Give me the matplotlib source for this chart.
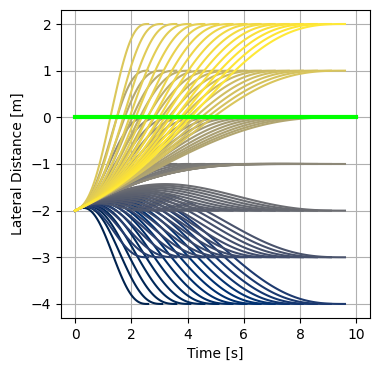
import numpy as np
import matplotlib
matplotlib.use('Agg')
import matplotlib.pyplot as plt

# lattice of lateral quintic trajectories: start state, target offsets and durations
d_start = -2.0
v_start = 0.3
targets = [-4, -3, -2, -1, 0, 1, 2]
durations = [2.6, 3.1, 3.6, 4.1, 4.6, 5.1, 5.6, 6.1, 6.6, 7.1, 7.6, 8.1, 8.6, 9.1, 9.6]
ref_line_x = [0, 10]
ref_line_y = [0, 0]


def quintic(d0, v0, d1, T, n=120):
    t = np.linspace(0, T, n)
    s = t / T
    move = (d1 - d0) * (10 * s**3 - 15 * s**4 + 6 * s**5)
    vel = v0 * T * (s - 6 * s**3 + 8 * s**4 - 3 * s**5)
    return t, d0 + move + vel


fig = plt.figure(figsize=(3.79, 3.71), dpi=100)
ax = fig.add_axes([0.161, 0.143, 0.816, 0.830])

n_total = len(targets) * len(durations)
cmap = plt.get_cmap('cividis')
k = 0
for d_end in targets:
    for T in durations:
        t, d = quintic(d_start, v_start, d_end, T)
        ax.plot(t, d, color=cmap(k / (n_total - 1)), linewidth=1.5)
        k += 1

ax.plot(ref_line_x, ref_line_y, color='#00ff00', linewidth=3)

ax.set_xlabel('Time [s]')
ax.set_ylabel('Lateral Distance [m]')
ax.set_xticks([0, 2, 4, 6, 8, 10])
ax.set_yticks([-4, -3, -2, -1, 0, 1, 2])
ax.grid(True)
fig.savefig('out.png', dpi=100)
